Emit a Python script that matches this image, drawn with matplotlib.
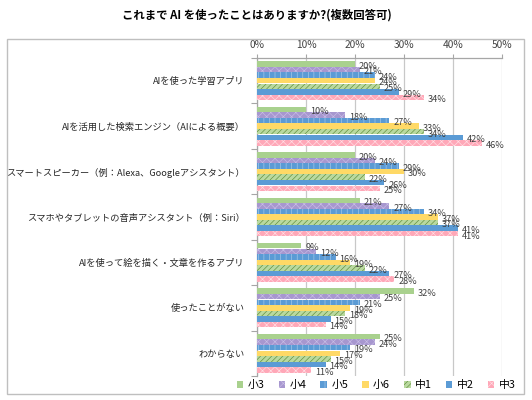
import matplotlib
matplotlib.use("Agg")
import matplotlib.pyplot as plt
from matplotlib.patches import Rectangle, Patch
import numpy as np

plt.rcParams["font.family"] = ["Noto Sans CJK JP", "DejaVu Sans"]
plt.rcParams["hatch.linewidth"] = 0.45

title = "これまで AI を使ったことはありますか?(複数回答可)"

categories = [
    "AIを使った学習アプリ",
    "AIを活用した検索エンジン（AIによる概要）",
    "スマートスピーカー（例：Alexa、Googleアシスタント）",
    "スマホやタブレットの音声アシスタント（例：Siri）",
    "AIを使って絵を描く・文章を作るアプリ",
    "使ったことがない",
    "わからない",
]

grades = ["小3", "小4", "小5", "小6", "中1", "中2", "中3"]

# percent per grade, one value per category (top to bottom)
s3 = [20, 10, 20, 21, 9, 32, 25]
s4 = [21, 18, 24, 27, 12, 25, 24]
s5 = [24, 27, 29, 34, 16, 21, 19]
s6 = [24, 33, 30, 37, 19, 19, 17]
c1 = [25, 34, 22, 37, 22, 18, 15]
c2 = [29, 42, 26, 41, 27, 15, 14]
c3 = [34, 46, 25, 41, 28, 14, 11]
series = [s3, s4, s5, s6, c1, c2, c3]

# face, hatch colour, hatch
styles = [
    ("#A9D18E", "#A9D18E", ""),
    ("#A797CF", "#C9BEE6", "xxxx"),
    ("#5B9BD5", "#A9CBEB", "|||"),
    ("#FFD966", "#FFD966", ""),
    ("#B9D99F", "#5E8C3A", "//////"),
    ("#5B9BD5", "#5B9BD5", ""),
    ("#FFA8B8", "#FFE0E6", "xxxx"),
]

fig = plt.figure(figsize=(5.32, 4.0), dpi=100)
fig.patches.append(Rectangle((0.013, 0.015), 0.972, 0.8875, transform=fig.transFigure,
                             fill=False, edgecolor="#BFBFBF", linewidth=1.0))
fig.text(0.483, 0.962, title, ha="center", va="center", fontsize=8.2, fontweight="bold")

ax = fig.add_axes([0.4837, 0.06, 0.4594, 0.795])

y = np.arange(len(categories))
step = 0.123
hgt = 0.12
for j, vals in enumerate(series):
    face, hc, hatch = styles[j]
    pos = y + (j - 3) * step
    ax.barh(pos, vals, height=hgt, color=face, edgecolor=hc, linewidth=0,
            hatch=hatch, zorder=3)
    for p, v in zip(pos, vals):
        ax.text(v + 0.8, p + 0.05, f"{v}%", ha="left", va="center",
                fontsize=6.6, color="#404040", zorder=4)

ax.set_xlim(0, 50)
ax.set_ylim(len(categories) - 0.5, -0.5)
ax.xaxis.tick_top()
ax.set_xticks(np.arange(0, 51, 10))
ax.set_xticklabels([f"{t}%" for t in range(0, 51, 10)], fontsize=7.3, color="#404040")
ax.tick_params(axis="x", length=3, color="#A6A6A6", pad=3)
ax.grid(axis="x", color="#C8C8C8", linewidth=0.9, zorder=0)

ax.set_yticks(np.arange(-0.5, len(categories)))
ax.set_yticklabels([])
ax.tick_params(axis="y", length=4, color="#A6A6A6")
ax.set_yticks(y, minor=True)
ax.set_yticklabels(categories, minor=True, fontsize=6.65, color="#262626")
ax.tick_params(axis="y", which="minor", length=0, pad=9)

for s in ["right", "bottom"]:
    ax.spines[s].set_visible(False)
for s in ["left", "top"]:
    ax.spines[s].set_color("#A6A6A6")
    ax.spines[s].set_linewidth(0.9)

handles = [Patch(facecolor=st[0], edgecolor=st[1], linewidth=0, hatch=st[2]) for st in styles]
fig.legend(handles, grades, loc="center", bbox_to_anchor=(0.707, 0.037), ncol=7,
           frameon=False, fontsize=7.8, handlelength=0.6, handleheight=0.6,
           handletextpad=0.4, columnspacing=1.3, borderaxespad=0)

fig.savefig("out.png", dpi=100)
